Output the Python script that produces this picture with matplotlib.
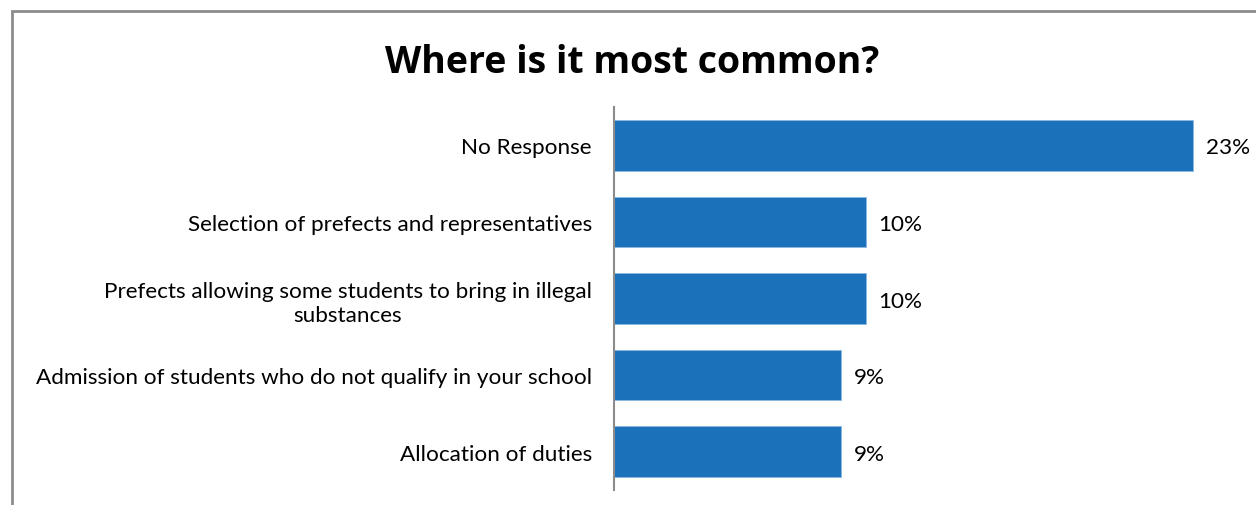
import matplotlib.pyplot as plt
from matplotlib.patches import Rectangle

# ---------------- DATA ----------------
CATEGORIES = [
    "No Response",
    "Selection of prefects and representatives",
    "Prefects allowing some students to bring in illegal\nsubstances",
    "Admission of students who do not qualify in your school",
    "Allocation of duties",
]
PERCENTS = [23, 10, 10, 9, 9]

BAR_COLOR = "#1B71BA"
FRAME_COLOR = "#8C8C8C"
LABEL_FONT = ["Lato", "DejaVu Sans"]
TITLE_FONT = ["Open Sans", "DejaVu Sans"]
LABEL_SIZE = 16.2

fig = plt.figure(figsize=(12.56, 5.06), dpi=100)

# outer chart frame, running off the right and bottom edges
fig.patches.append(Rectangle((11.5 / 1256, -0.1), 1.2, 1 - 11.5 / 506 + 0.1,
                             transform=fig.transFigure, fill=False,
                             edgecolor=FRAME_COLOR, linewidth=2))

ax = fig.add_axes([614 / 1256, 1 - 491 / 506, 626 / 1256, 383 / 506])
y = list(range(len(CATEGORIES)))
bars = ax.barh(y, PERCENTS, height=0.66, color=BAR_COLOR,
               edgecolor="#8DB8E0", linewidth=0.6)
ax.set_ylim(len(CATEGORIES) - 0.5, -0.5)
ax.set_xlim(0, 626 / 25.17)

for bar, v in zip(bars, PERCENTS):
    ax.annotate(f"{v}%", (bar.get_width(), bar.get_y() + bar.get_height() / 2),
                xytext=(13, -2), textcoords="offset pixels",
                ha="left", va="center", fontsize=LABEL_SIZE, family=LABEL_FONT)

ax.set_yticks(y)
ax.set_yticklabels(CATEGORIES, fontsize=LABEL_SIZE, family=LABEL_FONT,
                   multialignment="center", linespacing=1.25)
ax.tick_params(axis="y", length=0, pad=16)
ax.set_xticks([])
for side in ["top", "right", "bottom"]:
    ax.spines[side].set_visible(False)
ax.spines["left"].set_color(FRAME_COLOR)
ax.spines["left"].set_linewidth(1.5)

fig.text(632 / 1256, 1 - 73 / 506, "Where is it most common?", ha="center",
         va="baseline", fontsize=27, fontweight="bold", family=TITLE_FONT)

fig.savefig("out.png", dpi=100)
